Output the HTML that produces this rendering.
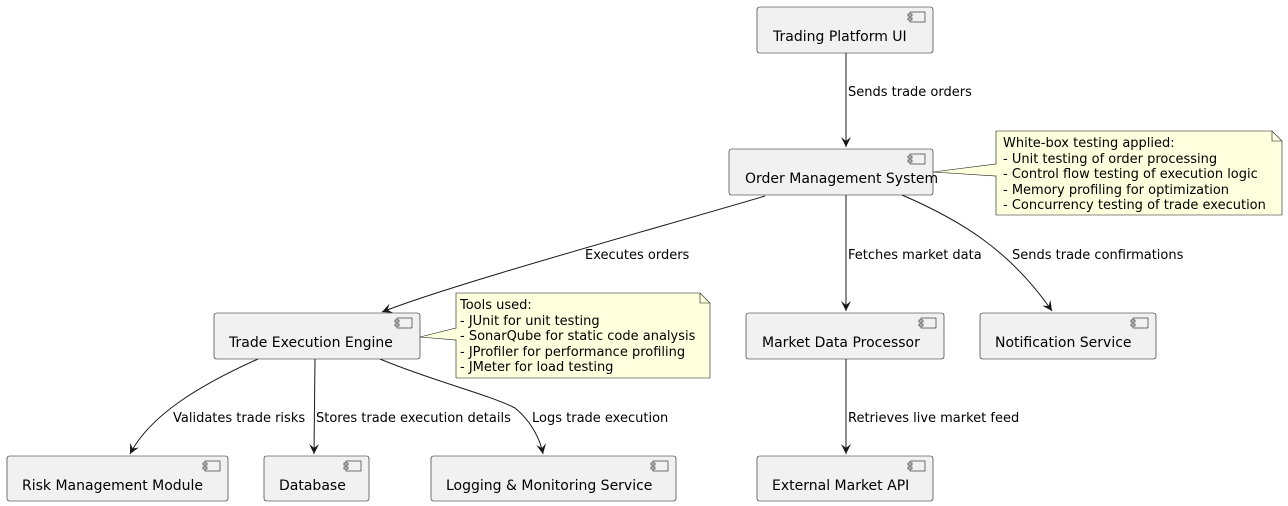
<!DOCTYPE html>
<html><head><meta charset="utf-8"><style>
html,body{margin:0;padding:0;background:#fff;}
svg{display:block;font-family:"DejaVu Sans","Liberation Sans",sans-serif;}
.b{fill:#f1f1f1;stroke:#181818;stroke-width:0.6;}
.t{font-size:14px;fill:#000;}
.l{font-size:13px;fill:#000;}
.e{fill:none;stroke:#181818;stroke-width:1;}
.n{fill:#feffdd;stroke:#181818;stroke-width:0.6;}
.ic{fill:#f1f1f1;stroke:#181818;stroke-width:0.6;}
</style></head><body>
<svg width="1288" height="506" viewBox="0 0 1288 506">
<defs>
<g id="icon"><rect class="ic" x="0" y="0" width="15" height="10"/><rect class="ic" x="-2" y="2" width="4" height="2"/><rect class="ic" x="-2" y="6" width="4" height="2"/></g>
<marker id="a" markerWidth="12" markerHeight="12" refX="10" refY="5" orient="auto" markerUnits="userSpaceOnUse"><path d="M0,0 L10,5 L0,10 L4,5 Z" fill="#181818"/></marker>
</defs>

<!-- edges -->
<path class="e" d="M846,53 L846,147" marker-end="url(#a)"/>
<text class="l" x="848" y="96">Sends trade orders</text>
<path class="e" d="M765,196 C650,230 450,285 382,312" marker-end="url(#a)"/>
<text class="l" x="585" y="259">Executes orders</text>
<path class="e" d="M846,195 L846,311" marker-end="url(#a)"/>
<text class="l" x="848" y="259">Fetches market data</text>
<path class="e" d="M902,195 C960,220 1010,250 1052,311" marker-end="url(#a)"/>
<text class="l" x="1012" y="259">Sends trade confirmations</text>
<path class="e" d="M258,359 C200,385 150,415 130,454" marker-end="url(#a)"/>
<text class="l" x="173" y="422">Validates trade risks</text>
<path class="e" d="M315,359 L314,454" marker-end="url(#a)"/>
<text class="l" x="316" y="422">Stores trade execution details</text>
<path class="e" d="M380,359 C430,380 490,395 515,408 C530,420 540,438 543,454" marker-end="url(#a)"/>
<text class="l" x="532" y="422">Logs trade execution</text>
<path class="e" d="M846,359 L846,454" marker-end="url(#a)"/>
<text class="l" x="848" y="422">Retrieves live market feed</text>

<!-- boxes -->
<rect class="b" x="757" y="7" width="176" height="46" rx="2.5"/><use href="#icon" x="910" y="12"/>
<text class="t" x="773" y="41">Trading Platform UI</text>
<rect class="b" x="729" y="149" width="204" height="46" rx="2.5"/><use href="#icon" x="910" y="154"/>
<text class="t" x="745" y="183">Order Management System</text>
<rect class="b" x="214" y="313" width="206" height="46" rx="2.5"/><use href="#icon" x="397" y="318"/>
<text class="t" x="229" y="347">Trade Execution Engine</text>
<rect class="b" x="746" y="313" width="198" height="46" rx="2.5"/><use href="#icon" x="921" y="318"/>
<text class="t" x="762" y="347">Market Data Processor</text>
<rect class="b" x="980" y="313" width="176" height="46" rx="2.5"/><use href="#icon" x="1133" y="318"/>
<text class="t" x="995" y="347">Notification Service</text>
<rect class="b" x="7" y="456" width="221" height="45" rx="2.5"/><use href="#icon" x="205" y="461"/>
<text class="t" x="22" y="490">Risk Management Module</text>
<rect class="b" x="264" y="456" width="105" height="45" rx="2.5"/><use href="#icon" x="346" y="461"/>
<text class="t" x="279" y="490">Database</text>
<rect class="b" x="431" y="456" width="245" height="45" rx="2.5"/><use href="#icon" x="653" y="461"/>
<text class="t" x="446" y="490">Logging &amp; Monitoring Service</text>
<rect class="b" x="757" y="456" width="176" height="45" rx="2.5"/><use href="#icon" x="910" y="461"/>
<text class="t" x="772" y="490">External Market API</text>

<!-- notes -->
<path class="n" d="M933,172 L996,164 L996,176 Z"/>
<path class="n" d="M996,131 L1272,131 L1282,141 L1282,215 L996,215 Z"/>
<path class="e" style="stroke-width:0.6" d="M1272,131 L1272,141 L1282,141"/>
<line x1="996" y1="164.5" x2="996" y2="175.5" stroke="#feffdd" stroke-width="1.2"/>
<text class="l" x="1003" y="147">White-box testing applied:</text>
<text class="l" x="1003" y="163">- Unit testing of order processing</text>
<text class="l" x="1003" y="178">- Control flow testing of execution logic</text>
<text class="l" x="1003" y="194">- Memory profiling for optimization</text>
<text class="l" x="1003" y="209">- Concurrency testing of trade execution</text>

<path class="n" d="M420,337 L456,328 L456,340 Z"/>
<path class="n" d="M456,293 L700,293 L710,303 L710,378 L456,378 Z"/>
<path class="e" style="stroke-width:0.6" d="M700,293 L700,303 L710,303"/>
<line x1="456" y1="328.5" x2="456" y2="339.5" stroke="#feffdd" stroke-width="1.2"/>
<text class="l" x="460" y="309">Tools used:</text>
<text class="l" x="460" y="325">- JUnit for unit testing</text>
<text class="l" x="460" y="340">- SonarQube for static code analysis</text>
<text class="l" x="460" y="356">- JProfiler for performance profiling</text>
<text class="l" x="460" y="371">- JMeter for load testing</text>
</svg>
</body></html>
